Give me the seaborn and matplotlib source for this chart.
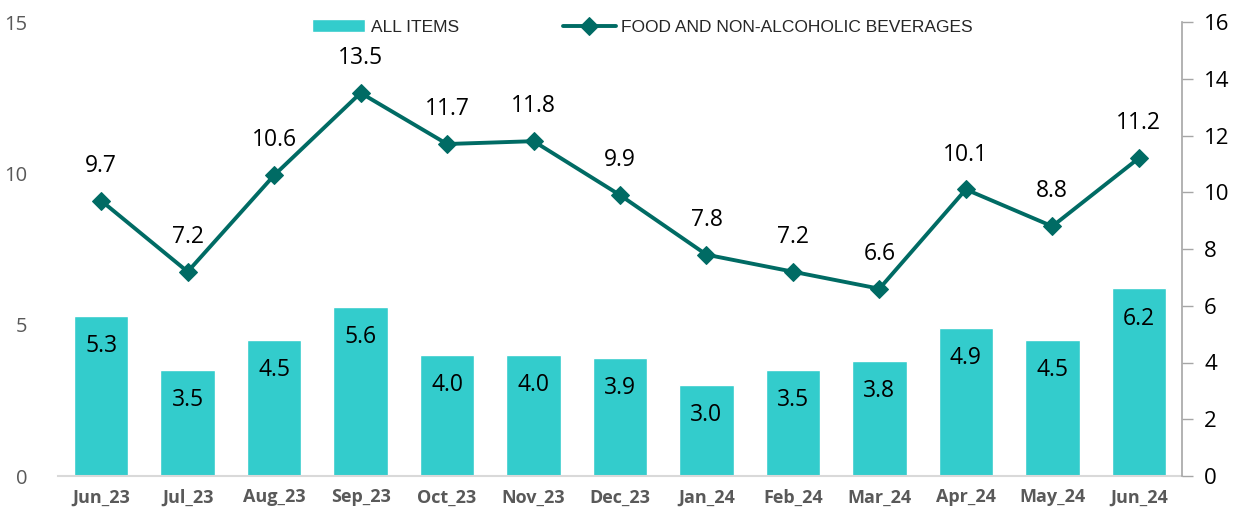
import numpy as np
import pandas as pd
import matplotlib
matplotlib.use('Agg')
import matplotlib.pyplot as plt
import seaborn as sns

sns.set_style('white')
plt.rcParams['font.family'] = ['Open Sans', 'DejaVu Sans']

months = ['Jun_23', 'Jul_23', 'Aug_23', 'Sep_23', 'Oct_23', 'Nov_23', 'Dec_23',
          'Jan_24', 'Feb_24', 'Mar_24', 'Apr_24', 'May_24', 'Jun_24']
all_items = [5.3, 3.5, 4.5, 5.6, 4.0, 4.0, 3.9, 3.0, 3.5, 3.8, 4.9, 4.5, 6.2]
food = [9.7, 7.2, 10.6, 13.5, 11.7, 11.8, 9.9, 7.8, 7.2, 6.6, 10.1, 8.8, 11.2]

bar_col = '#33CCCC'
line_col = '#006B64'

df = pd.DataFrame({'month': months, 'all_items': all_items, 'food': food})
pos = np.arange(len(months))

fig = plt.figure(figsize=(12.44, 5.15), dpi=100)
ax = fig.add_axes([58/1244, 1 - 476/515, (1182-58)/1244, (476-22)/515])

sns.barplot(data=df, x='month', y='all_items', color=bar_col, width=0.63,
            saturation=1, ax=ax, label='ALL ITEMS')
ax.set_ylim(0, 15)
ax.set_xlim(-0.5, len(months) - 0.5)
ax.set_yticks([0, 5, 10, 15])
ax.tick_params(axis='y', length=0, labelsize=14.5, labelcolor='#595959', pad=22)
ax.tick_params(axis='x', length=0, labelsize=13, labelcolor='#595959', pad=9)
for t in ax.get_xticklabels():
    t.set_fontweight('bold')
ax.set_xlabel('')
ax.set_ylabel('')
for s in ['top', 'right', 'left']:
    ax.spines[s].set_visible(False)
ax.spines['bottom'].set_color('#D9D9D9')
ax.spines['bottom'].set_linewidth(1.5)

for i, v in enumerate(all_items):
    ax.text(i, v - 1.0, f'{v:.1f}', ha='center', va='center', fontsize=16.5, color='black')

ax2 = ax.twinx()
sns.lineplot(x=pos, y=food, color=line_col, marker='D', markersize=9,
             linewidth=2.8, markeredgecolor=line_col, ax=ax2,
             label='FOOD AND NON-ALCOHOLIC BEVERAGES')
ax2.set_ylim(0, 16)
ax2.set_yticks(range(0, 17, 2))
ax2.tick_params(axis='y', length=8, width=1, color='#A6A6A6', labelsize=16,
                labelcolor='black', pad=8, direction='out')
for s in ['top', 'left', 'bottom']:
    ax2.spines[s].set_visible(False)
ax2.spines['right'].set_color('#A6A6A6')
ax2.spines['right'].set_linewidth(1.2)
ax2.set_xlim(-0.5, len(months) - 0.5)

for i, v in enumerate(food):
    ax2.text(i, v + 1.23, f'{v:.1f}', ha='center', va='center', fontsize=16.5, color='black')

h1, l1 = ax.get_legend_handles_labels()
h2, l2 = ax2.get_legend_handles_labels()
if ax2.get_legend():
    ax2.get_legend().remove()
leg = ax.legend(h1 + h2, l1 + l2, loc='upper center', bbox_to_anchor=(0.52, 1.04),
                ncol=2, frameon=False, columnspacing=6, handlelength=3.05,
                handletextpad=0.3,
                prop={'family': ['Liberation Sans Narrow', 'Liberation Sans'], 'size': 12.5})

fig.savefig('out.png', dpi=100)
